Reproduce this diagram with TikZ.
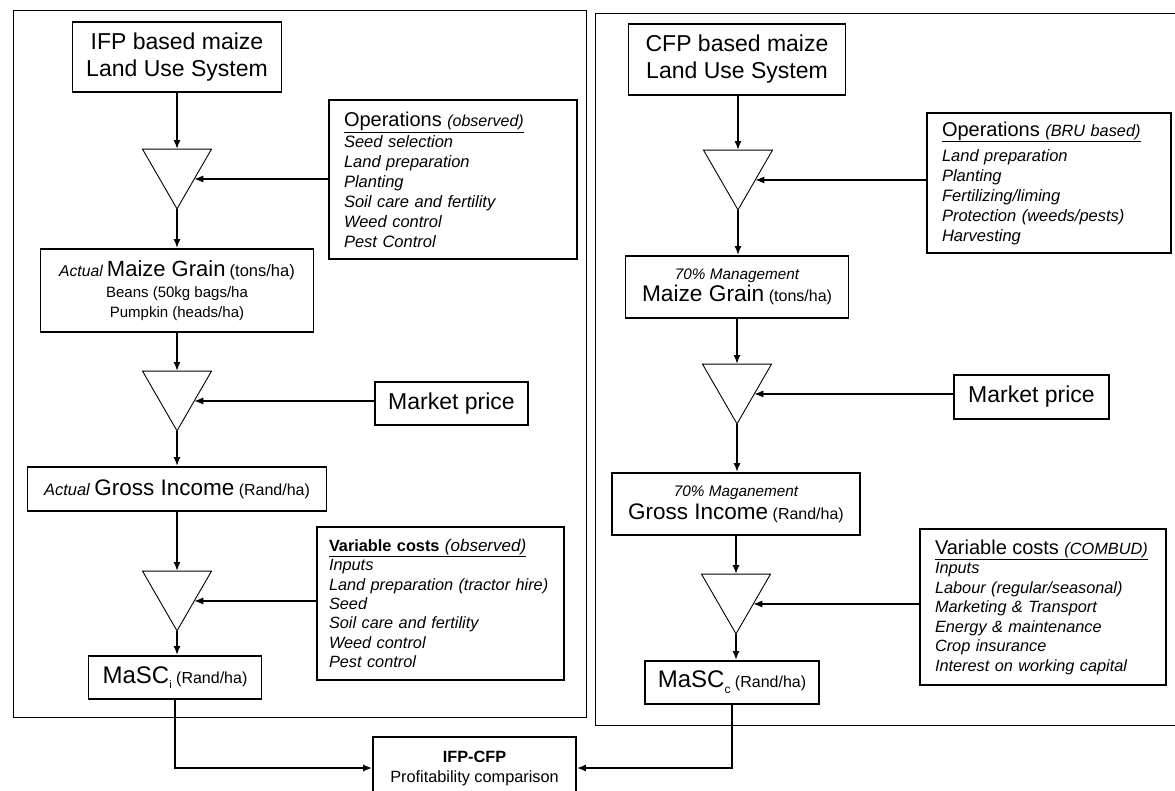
\documentclass[tikz,border=0pt]{standalone}
\usepackage{fontspec}
\setmainfont{Liberation Sans}
\usetikzlibrary{arrows.meta,shapes.geometric}
\newcommand{\fsz}[1]{\fontsize{#1}{#1}\selectfont}

\begin{document}
\begin{tikzpicture}[
  x=1pt, y=-1pt,
  box/.style={draw, line width=1.8pt, align=center, inner sep=0pt, font=\fontsize{16}{20}\selectfont},
  listbox/.style={draw, line width=1.8pt, align=left, inner xsep=15pt, inner ysep=0pt, font=\fontsize{16.5}{20}\selectfont\itshape},
  funnel/.style={draw, line width=0.9pt, regular polygon, regular polygon sides=3, shape border rotate=180, minimum size=79.7pt, inner sep=0pt, outer sep=0pt},
  frame/.style={draw, line width=0.8pt},
  flow/.style={->, line width=1.8pt},
  feed/.style={->, line width=1.1pt},
  >={Latex[length=9pt, width=7pt]}
]
\useasboundingbox (0,0) rectangle (1175,790);
\draw[frame] (13,10) rectangle (586,717);
\draw[frame] (595,13) rectangle (1185,725);

% IFP side
\node[box, minimum width=209pt, minimum height=70pt, font=\fontsize{23}{27}\selectfont] (ifp) at (177,57) {IFP based maize\\Land Use System};
\node[funnel] (trii1) at (177,169) {};
\node[listbox, text width=218pt, minimum height=159pt] (opsi) at (453,179.5) {\underline{{\upshape\fsz{20}Operations} \fsz{16}(observed)}\\[1pt]Seed selection\\Land preparation\\Planting\\Soil care and fertility\\Weed control\\Pest Control};
\node[box, minimum width=273pt, minimum height=83pt, font=\fontsize{15}{20}\selectfont] (graini) at (177,290.5) {{\itshape\fsz{15.7}Actual} {\fsz{22}Maize Grain} {\fsz{16.5}(tons/ha)}\\[1pt]Beans (50kg bags/ha\\Pumpkin (heads/ha)};
\node[funnel] (trii2) at (177,391) {};
\node[box, minimum width=153pt, minimum height=43pt, font=\fsz{23}] (pricei) at (451.5,403.5) {Market price};
\node[box, minimum width=299pt, minimum height=44pt] (grossi) at (177,489) {{\itshape\fsz{16.5}Actual} {\fsz{22.5}Gross Income} (Rand/ha)};
\node[funnel] (trii3) at (177,591) {};
\node[listbox, inner xsep=12pt, text width=223pt, minimum height=153pt, font=\fontsize{16.3}{19.4}\selectfont\itshape] (costi) at (440.5,603.5) {\underline{{\upshape\bfseries Variable costs} \fsz{17}(observed)}\\Inputs\\Land preparation (tractor hire)\\Seed\\Soil care and fertility\\Weed control\\Pest control};
\node[box, minimum width=173pt, minimum height=43pt] (masci) at (175,677.5) {{\fsz{24}MaSC}\raisebox{-5pt}{\fsz{11}i} (Rand/ha)};

% CFP side
\node[box, minimum width=217pt, minimum height=71pt, font=\fontsize{23}{27}\selectfont] (cfp) at (737,59.5) {CFP based maize\\Land Use System};
\node[funnel] (tric1) at (738,170) {};
\node[listbox, text width=214pt, minimum height=140pt] (opsc) at (1049,183) {\underline{{\upshape\fsz{20}Operations} \fsz{16.3}(BRU based)}\\[5pt]Land preparation\\Planting\\Fertilizing/liming\\Protection (weeds/pests)\\Harvesting};
\node[box, minimum width=223pt, minimum height=62pt] (grainc) at (737,287) {{\itshape\fsz{15.3}70\% Management}\\[2pt]{\fsz{22.7}Maize Grain} (tons/ha)};
\node[funnel] (tric2) at (737,384) {};
\node[box, minimum width=155pt, minimum height=44pt, font=\fsz{23}] (pricec) at (1031.5,397) {Market price};
\node[box, minimum width=248pt, minimum height=62pt] (grossc) at (736,504) {{\itshape\fsz{15.3}70\% Maganement}\\[3pt]{\fsz{22.5}Gross Income} (Rand/ha)};
\node[funnel] (tric3) at (736,594) {};
\node[listbox, text width=216pt, minimum height=156pt, font=\fontsize{16.3}{19.5}\selectfont\itshape] (costc) at (1043,607) {\underline{{\upshape\fsz{20}Variable costs} \fsz{16.3}(COMBUD)}\\Inputs\\Labour (regular/seasonal)\\Marketing \& Transport\\Energy \& maintenance\\Crop insurance\\Interest on working capital};
\node[box, minimum width=174pt, minimum height=43pt] (mascc) at (732,682.5) {{\fsz{24}MaSC}\raisebox{-6pt}{\fsz{12}c} (Rand/ha)};

% comparison
\node[box, minimum width=203pt, minimum height=62pt, font=\fontsize{16.3}{20}\selectfont] (cmp) at (474.5,768) {\textbf{IFP-CFP}\\Profitability comparison};

\draw[flow] (ifp.south) -- (trii1.side 2);
\draw[flow] (trii1.corner 1) -- (graini.north);
\draw[flow] (graini.south) -- (trii2.side 2);
\draw[flow] (trii2.corner 1) -- (grossi.north);
\draw[flow] (grossi.south) -- (trii3.side 2);
\draw[flow] (trii3.corner 1) -- (trii3.corner 1 |- masci.north);
\draw[feed] (opsi.west |- trii1.side 1) -- (trii1.side 1);
\draw[feed] (pricei.west |- trii2.side 1) -- (trii2.side 1);
\draw[feed] (costi.west |- trii3.side 1) -- (trii3.side 1);

\draw[flow] (cfp.south -| tric1.side 2) -- (tric1.side 2);
\draw[flow] (tric1.corner 1) -- (tric1.corner 1 |- grainc.north);
\draw[flow] (grainc.south -| tric2.side 2) -- (tric2.side 2);
\draw[flow] (tric2.corner 1) -- (tric2.corner 1 |- grossc.north);
\draw[flow] (grossc.south -| tric3.side 2) -- (tric3.side 2);
\draw[flow] (tric3.corner 1) -- (tric3.corner 1 |- mascc.north);
\draw[feed] (opsc.west |- tric1.side 1) -- (tric1.side 1);
\draw[feed] (pricec.west |- tric2.side 1) -- (tric2.side 1);
\draw[feed] (costc.west |- tric3.side 1) -- (tric3.side 1);

\draw[feed, line width=1.5pt] (masci.south) |- (cmp.west);
\draw[feed, line width=1.5pt] (mascc.south) |- (cmp.east);
\end{tikzpicture}
\end{document}
